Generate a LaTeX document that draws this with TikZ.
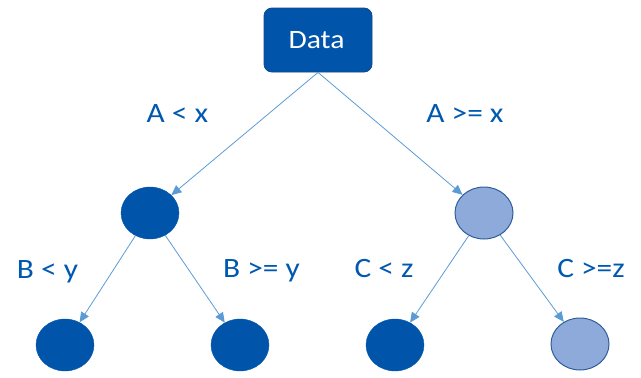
\documentclass[tikz,border=0pt]{standalone}
\usepackage{fontspec}
\setmainfont{Carlito}
\usetikzlibrary{arrows.meta,shapes.geometric}
\definecolor{darkfill}{RGB}{0,84,170}
\definecolor{darkedge}{RGB}{20,70,140}
\definecolor{lightfill}{RGB}{142,170,219}
\definecolor{lightedge}{RGB}{46,95,153}
\definecolor{linkblue}{RGB}{91,155,213}
\definecolor{labelblue}{RGB}{0,88,176}
% slightly widened glyphs
\newcommand{\wide}[1]{\scalebox{1.12}[1]{#1}}
\begin{document}
\begin{tikzpicture}[x=1pt,y=-1pt,
  rootbox/.style={draw=darkedge,fill=darkfill,rounded corners=8pt,minimum width=108pt,minimum height=64pt,line width=0.8pt},
  roottext/.style={text=white,font=\fontsize{26.5}{30}\selectfont,anchor=base,inner sep=0pt},
  darknode/.style={ellipse,draw=darkfill,fill=darkfill,minimum width=58pt,minimum height=52pt,inner sep=0pt},
  lightnode/.style={ellipse,draw=lightedge,fill=lightfill,minimum width=58pt,minimum height=52pt,inner sep=0pt,line width=1pt},
  link/.style={draw=linkblue,line width=0.8pt,-{Triangle[length=10pt,width=9pt]}},
  cond/.style={text=labelblue,font=\fontsize{28}{32}\selectfont,anchor=base,inner sep=0pt}]
\useasboundingbox (0,0) rectangle (641,378);
\node[rootbox] (data) at (318,40) {};
\node[roottext] (datatext) at (316.5,48) {\wide{Data}};
\node[darknode] (l) at (150,213) {};
\node[lightnode] (r) at (484,213) {};
\node[darknode] (ll) at (65,345) {};
\node[darknode] (lr) at (240,345) {};
\node[darknode] (rl) at (395,345) {};
\node[lightnode] (rr) at (580,344) {};
\draw[link] (data.south) -- (l);
\draw[link] (data.south) -- (r);
\draw[link] (l) -- (ll);
\draw[link] (l) -- (lr);
\draw[link] (r) -- (rl);
\draw[link] (r) -- (rr);
\node[cond] (lab1) at (177.5,122) {\wide{A < x}};
\node[cond] (lab2) at (465,122) {\wide{A >= x}};
\node[cond] (lab3) at (47.5,278) {\wide{B < y}};
\node[cond] (lab4) at (261.5,277) {\wide{B >= y}};
\node[cond] (lab5) at (384,277) {\wide{C < z}};
\node[cond] (lab6) at (591,277) {\wide{C >=z}};
\end{tikzpicture}
\end{document}
